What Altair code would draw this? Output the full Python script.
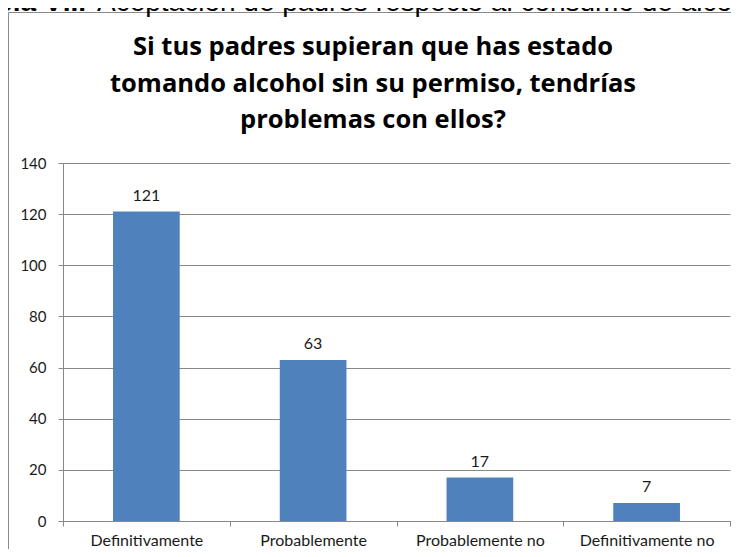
import altair as alt
import pandas as pd

CATEGORIES = ["Definitivamente", "Probablemente", "Probablemente no", "Definitivamente no"]
VALUES = [121, 63, 17, 7]
TITLE_LINES = [
    "Si tus padres supieran que has estado",
    "tomando alcohol sin su permiso, tendrías",
    "problemas con ellos?",
]
CAPTION_BOLD = "Tabla VII."
CAPTION_TEXT = "Aceptación de padres respecto al consumo de alcohol"
Y_TICKS = [0, 20, 40, 60, 80, 100, 120, 140]

df = pd.DataFrame({"cat": CATEGORIES, "val": VALUES})

GRID = "#888888"
FONT = "Lato"
TXT = "#1a1a1a"

x_enc = alt.X(
    "cat:N",
    sort=CATEGORIES,
    scale=alt.Scale(paddingInner=0, paddingOuter=0),
    axis=alt.Axis(
        title=None,
        labelAngle=0,
        tickBand="extent",
        tickSize=5,
        tickColor=GRID,
        domainColor=GRID,
        labelFont=FONT,
        labelFontSize=16,
        labelColor=TXT,
        labelBaseline="alphabetic",
        labelPadding=19,
        grid=False,
    ),
)
y_enc = alt.Y(
    "val:Q",
    scale=alt.Scale(domain=[0, 140]),
    axis=alt.Axis(
        title=None,
        values=Y_TICKS,
        grid=True,
        gridColor=GRID,
        domainColor=GRID,
        tickColor=GRID,
        tickSize=5,
        labelPadding=12,
        labelFont=FONT,
        labelFontSize=15,
        labelColor=TXT,
    ),
)

base = alt.Chart(df)
bars = base.mark_bar(width=alt.RelativeBandSize(0.4), color="#4F81BD").encode(x=x_enc, y=y_enc)
labels = base.mark_text(
    font=FONT, fontSize=16, color=TXT, baseline="alphabetic", dy=-11
).encode(x=alt.X("cat:N", sort=CATEGORIES), y="val:Q", text="val:Q")

one = alt.Data(values=[{"k": 1}])
frame_top = alt.Chart(one).mark_rule(color="#8a8a8a", strokeWidth=1).encode(
    x=alt.value(-54.5), x2=alt.value(668), y=alt.value(-150.5)
)
frame_left = alt.Chart(one).mark_rule(color="#8a8a8a", strokeWidth=1).encode(
    x=alt.value(-54.5), y=alt.value(-150.5), y2=alt.value(394)
)
title = alt.Chart(one).mark_text(
    font="Open Sans", fontSize=25.5, fontWeight="bold", color="#000000",
    align="center", baseline="alphabetic", lineHeight=36.5,
).encode(x=alt.value(310), y=alt.value(-108), text=alt.value(TITLE_LINES))
cap_bold = alt.Chart(one).mark_text(
    font="Liberation Sans", fontSize=28, fontWeight="bold", color="#000000",
    align="right", baseline="alphabetic",
).encode(x=alt.value(23), y=alt.value(-152), text=alt.value(CAPTION_BOLD))
cap_text = alt.Chart(one).mark_text(
    font="Liberation Sans", fontSize=28, color="#000000",
    align="left", baseline="alphabetic",
).encode(x=alt.value(34), y=alt.value(-152), text=alt.value(CAPTION_TEXT))

chart = (
    alt.layer(frame_top, frame_left, bars, labels, title, cap_bold, cap_text)
    .properties(
        width=667,
        height=358,
        autosize=alt.AutoSizeParams(type="none"),
        padding={"left": 55, "top": 155, "right": 1, "bottom": 28},
        background="white",
    )
    .configure_view(strokeWidth=0)
)

chart.save("out.html", embed_options={"renderer": "svg", "actions": False})
